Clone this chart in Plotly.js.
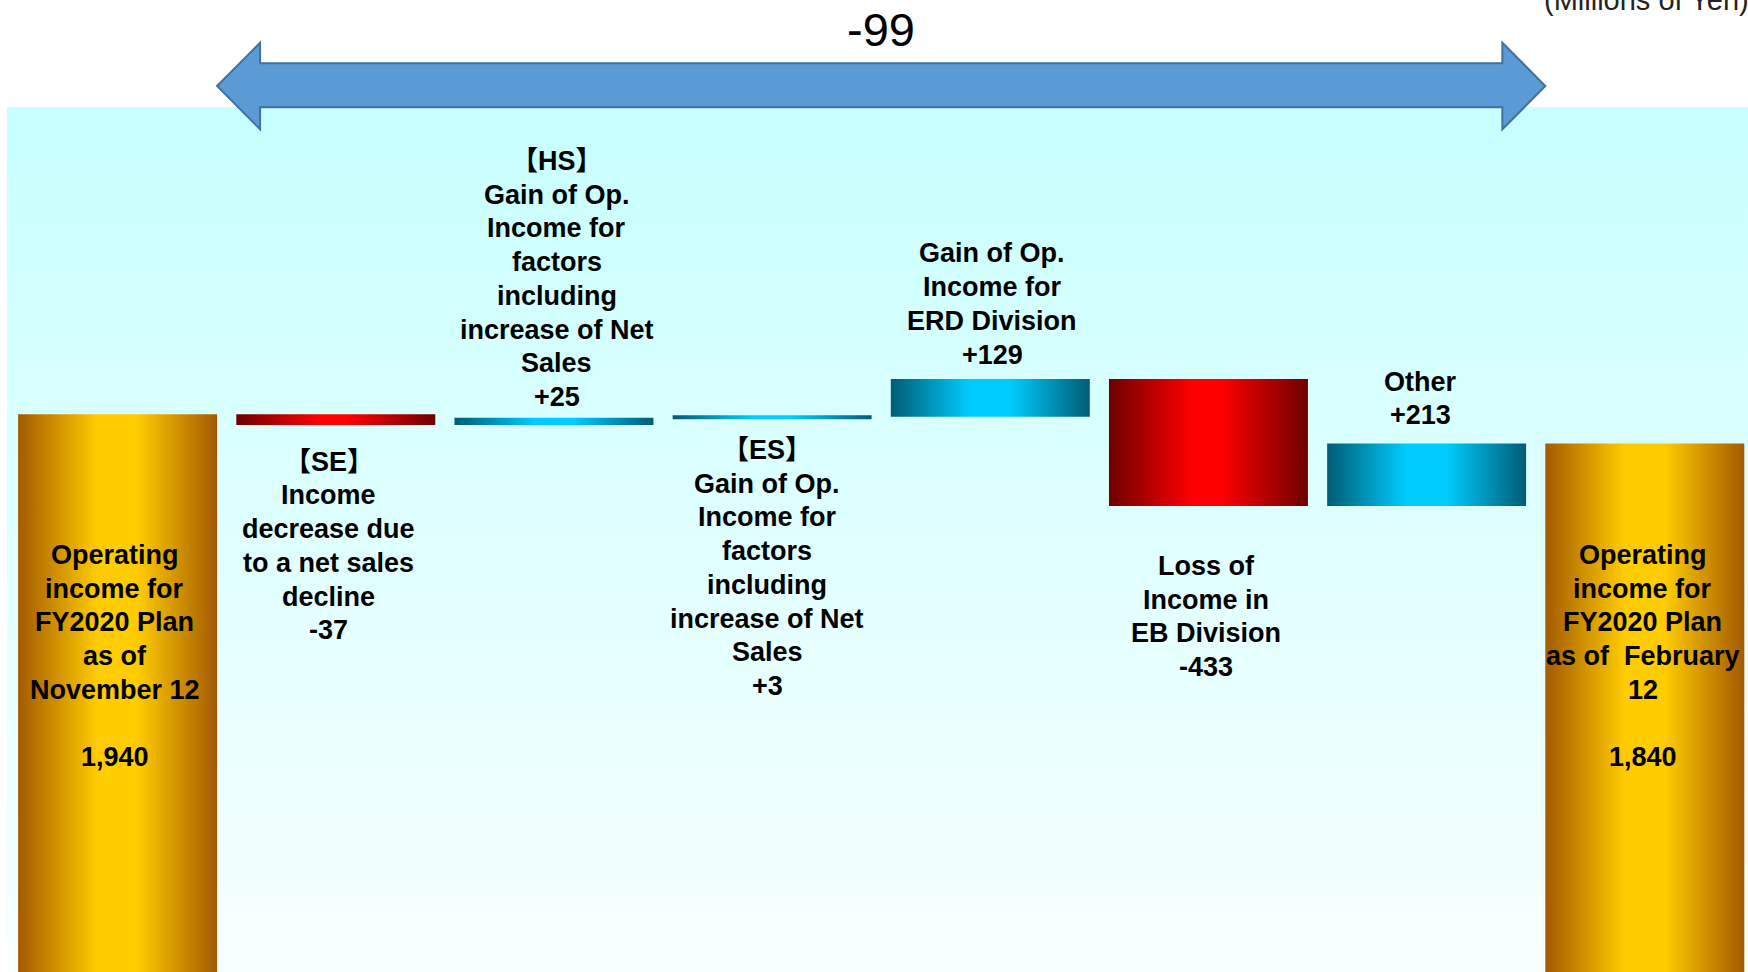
<!DOCTYPE html>
<html>
<head>
<meta charset="utf-8">
<script src="https://cdn.plot.ly/plotly-3.0.1.min.js"></script>
<style>html,body{margin:0;padding:0;background:#fff;}#chart{width:1748px;height:972px;}</style>
</head>
<body>
<div id="chart"></div>
<script>
// ---------------- data ----------------
const categories = ['Start (Nov 12 plan)', 'SE', 'HS', 'ES', 'ERD', 'EB', 'Other', 'End (Feb 12 plan)'];
const values = [1940, -37, 25, 3, 129, -433, 213, 1840];
const measures = ['absolute', 'relative', 'relative', 'relative', 'relative', 'relative', 'relative', 'total'];
const labelLines = [
  ['Operating', 'income for', 'FY2020 Plan', 'as of', 'November 12', ''],
  ['【SE】', 'Income', 'decrease due', 'to a net sales', 'decline'],
  ['【HS】', 'Gain of Op.', 'Income for', 'factors', 'including', 'increase of Net', 'Sales'],
  ['【ES】', 'Gain of Op.', 'Income for', 'factors', 'including', 'increase of Net', 'Sales'],
  ['Gain of Op.', 'Income for', 'ERD Division'],
  ['Loss of', 'Income in', 'EB Division'],
  ['Other'],
  ['Operating', 'income for', 'FY2020 Plan', 'as of\u00a0 February', '12', '']
];
const totalChange = -99;
const unitLabel = '(Millions of Yen)';

// ---------------- style / layout constants ----------------
const W = 1748, H = 972;
const M = {l: 7, r: 0, t: 107, b: 0};
const X_RANGE = [-0.507, 7.473];
const Y_RANGE = [39.6, 2986.7];
const BAR_W = 0.912;
const MIN_BAR_PX = 4;
const FONT = 'Liberation Sans, Arial, "Noto Sans CJK JP", sans-serif';
const LABEL_SIZE = 27;
const LINE_PX = 33.75;
const labelCenterPx = [656, 546, 279, 568, 304, 616.5, 398.5, 656];
const labelDx = [-3, -7, 3, -5, 2, -2, -6, -2];

const GOLD = [[0, '#A35A00'], [0.4, '#FFCC00'], [0.6, '#FFCC00'], [1, '#A35A00']];
const RED = [[0, '#6E0000'], [0.42, '#FF0000'], [0.56, '#FF0000'], [1, '#6E0000']];
const BLUE = [[0, '#005C75'], [0.4, '#00CCFF'], [0.6, '#00CCFF'], [1, '#005C75']];

const plotH = H - M.t - M.b;
const unitsPerPx = (Y_RANGE[1] - Y_RANGE[0]) / plotH;
const pxToPaper = py => (H - py) / plotH;

// ---------------- traces ----------------
const traces = [];
traces.push({
  type: 'scatter', mode: 'lines', hoverinfo: 'skip', showlegend: false,
  x: [X_RANGE[0], X_RANGE[1], X_RANGE[1], X_RANGE[0], X_RANGE[0]],
  y: [Y_RANGE[0], Y_RANGE[0], Y_RANGE[1], Y_RANGE[1], Y_RANGE[0]],
  fill: 'toself', line: {width: 0, color: 'rgba(0,0,0,0)'},
  fillgradient: {type: 'vertical', colorscale: [[0, '#F8FFFF'], [1, '#C8FFFF']]}
});

let running = 0;
const annotations = [];
values.forEach((v, i) => {
  let base, top;
  if (measures[i] === 'relative') {
    base = running; top = running + v; running = top;
  } else {
    base = 0; top = v; running = v;
  }
  let lo = Math.min(base, top), hi = Math.max(base, top);
  const minU = MIN_BAR_PX * unitsPerPx;
  if (hi - lo < minU) { const mid = (hi + lo) / 2; lo = mid - minU / 2; hi = mid + minU / 2; }
  const x0 = i - BAR_W / 2, x1 = i + BAR_W / 2;
  const cs = measures[i] !== 'relative' ? GOLD : (v < 0 ? RED : BLUE);
  traces.push({
    type: 'scatter', mode: 'lines', name: categories[i], showlegend: false,
    x: [x0, x1, x1, x0, x0], y: [lo, lo, hi, hi, lo],
    fill: 'toself', line: {width: 0, color: 'rgba(0,0,0,0)'},
    fillgradient: {type: 'horizontal', colorscale: cs},
    hoveron: 'fills', text: categories[i] + ': ' + v
  });
  const valTxt = measures[i] === 'relative' ? (v > 0 ? '+' + v : String(v)) : v.toLocaleString('en-US');
  const lines = labelLines[i].concat([valTxt]);
  const n = lines.length;
  lines.forEach((ln, j) => {
    if (!ln) return;
    const py = labelCenterPx[i] + (j - (n - 1) / 2) * LINE_PX;
    annotations.push({
      x: i, xref: 'x', y: pxToPaper(py), yref: 'paper',
      xanchor: 'center', yanchor: 'middle', xshift: labelDx[i],
      text: ln, showarrow: false, align: 'center',
      font: {family: FONT, size: LABEL_SIZE, color: '#000000', weight: 700}
    });
  });
});

// arrow geometry (total change from start bar edge to end bar edge)
const tipL = 0 + BAR_W / 2, tipR = (values.length - 1) - BAR_W / 2;
const headLen = 0.197;
const yTop = pxToPaper(42.7), yBot = pxToPaper(129.3), yMid = (yTop + yBot) / 2;
const sTop = pxToPaper(63.3), sBot = pxToPaper(107.3);
const hL = tipL + headLen, hR = tipR - headLen;
const arrowPath = `M${tipL},${yMid} L${hL},${yTop} L${hL},${sTop} L${hR},${sTop} L${hR},${yTop} L${tipR},${yMid} L${hR},${yBot} L${hR},${sBot} L${hL},${sBot} L${hL},${yBot} Z`;

annotations.push({
  x: (tipL + tipR) / 2, xref: 'x', y: pxToPaper(30), yref: 'paper',
  xanchor: 'center', yanchor: 'middle', showarrow: false,
  text: String(totalChange), font: {family: FONT, size: 47, color: '#000000'}
});
annotations.push({
  x: 1, xref: 'paper', y: pxToPaper(0), yref: 'paper', xanchor: 'right', yanchor: 'middle',
  xshift: 3, showarrow: false, text: unitLabel,
  font: {family: FONT, size: 29, color: '#222222'}
});

const layout = {
  width: W, height: H, margin: M,
  paper_bgcolor: '#FFFFFF', plot_bgcolor: 'rgba(0,0,0,0)',
  showlegend: false,
  xaxis: {range: X_RANGE, visible: false, fixedrange: true},
  yaxis: {range: Y_RANGE, visible: false, fixedrange: true},
  shapes: [{
    type: 'path', xref: 'x', yref: 'paper', path: arrowPath,
    fillcolor: '#5B9BD5', line: {color: '#41719C', width: 2}, layer: 'above'
  }],
  annotations: annotations
};

Plotly.newPlot('chart', traces, layout, {displayModeBar: false, staticPlot: true});
</script>
</body>
</html>
